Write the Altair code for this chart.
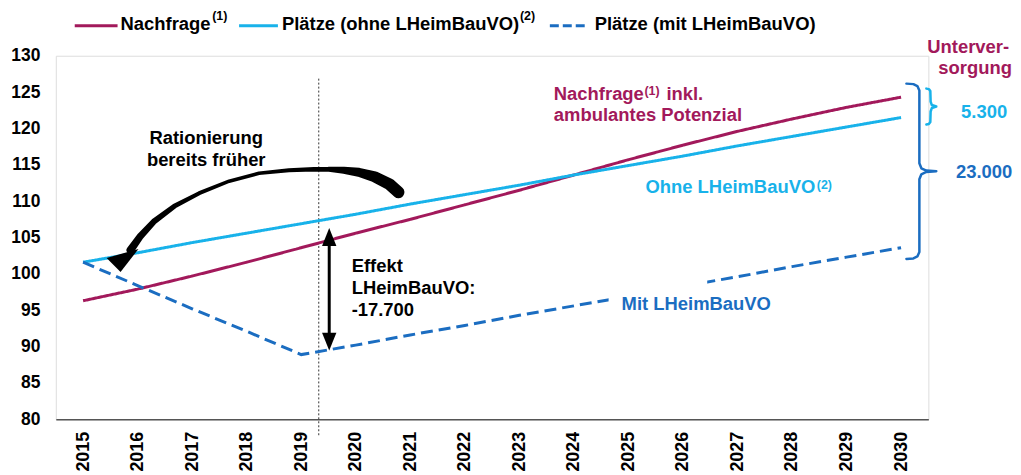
import altair as alt
import pandas as pd

# ---------------- data ----------------
years = list(range(2015, 2031))
nachfrage = [96.3, 97.9, 99.7, 101.6, 103.6, 105.6, 107.5, 109.5, 111.5, 113.6,
             115.7, 117.7, 119.6, 121.3, 122.9, 124.3]
plaetze_ohne = [101.6, 102.9, 104.3, 105.6, 106.9, 108.2, 109.6, 110.9, 112.2, 113.6,
                114.9, 116.2, 117.6, 118.9, 120.2, 121.5]
plaetze_mit = [101.6, 98.4, 95.2, 92.1, 88.9, 90.2, 91.6, 92.9, 94.3, 95.6,
               96.9, 98.3, 99.6, 101.0, 102.3, 103.6]
series_names = ["Nachfrage", "Plätze (ohne LHeimBauVO)", "Plätze (mit LHeimBauVO)"]
y_ticks = list(range(80, 131, 5))

CRIMSON = "#A2195B"
LIGHT = "#18B2EA"
MID = "#1B6DC1"
FONT = "Liberation Sans"
FS = 18.5

W, H = 876, 365
OX, OY = 56, 55  # page position of the plot origin (annotation helper)


def px(x):
    return x - OX


def py(y):
    return y - OY


df = pd.DataFrame({
    "year": years * 3,
    "value": nachfrage + plaetze_ohne + plaetze_mit,
    "series": [series_names[0]] * 16 + [series_names[1]] * 16 + [series_names[2]] * 16,
})

x_enc = alt.X(
    "year:Q",
    scale=alt.Scale(domain=[2014.5, 2030.5], nice=False, zero=False),
    axis=alt.Axis(values=years, format="d", labelAngle=-90, title=None, grid=False,
                  ticks=False, labelPadding=12, domainColor="#555555", domainWidth=1.5,
                  labelFont=FONT, labelFontWeight="bold", labelFontSize=18,
                  labelColor="black"),
)
y_enc = alt.Y(
    "value:Q",
    scale=alt.Scale(domain=[80, 130], nice=False, zero=False),
    axis=alt.Axis(values=y_ticks, title=None, grid=False, ticks=False, domain=False,
                  labelPadding=16, labelFont=FONT, labelFontWeight="bold",
                  labelFontSize=17.5, labelColor="black"),
)

lines = alt.Chart(df).mark_line(strokeWidth=3).encode(
    x=x_enc,
    y=y_enc,
    color=alt.Color("series:N", scale=alt.Scale(domain=series_names, range=[CRIMSON, LIGHT, MID]),
                    legend=None),
    strokeDash=alt.StrokeDash("series:N",
                              scale=alt.Scale(domain=series_names, range=[[1, 0], [1, 0], [12, 6]]),
                              legend=None),
)

# white mask hiding part of the dashed line
mask = alt.Chart(pd.DataFrame({"a": [0]})).mark_rect(color="white").encode(
    x=alt.value(px(611)), x2=alt.value(px(710)), y=alt.value(py(277)), y2=alt.value(py(306))
)

# dotted vertical separator
dotted = alt.Chart(pd.DataFrame({"a": [0]})).mark_rule(
    color="#333333", strokeWidth=1, strokeDash=[2, 2]
).encode(x=alt.value(px(320)), y=alt.value(py(78)), y2=alt.value(py(437)))

# legend
leg_rules = []
for (x1, x2, col, dash) in [(75, 118, CRIMSON, [1, 0]), (240, 279, LIGHT, [1, 0]), (552, 589, MID, [9, 4])]:
    leg_rules.append(
        alt.Chart(pd.DataFrame({"a": [0]})).mark_rule(color=col, strokeWidth=3, strokeDash=dash).encode(
            x=alt.value(px(x1)), x2=alt.value(px(x2)), y=alt.value(py(25))
        )
    )

ann = [
    ("Nachfrage", 121, 23.6, "black", FS, "left"),
    ("(1)", 213, 15, "black", 12.5, "left"),
    ("Plätze (ohne LHeimBauVO)", 283, 23.6, "black", FS, "left"),
    ("(2)", 522, 15, "black", 12.5, "left"),
    ("Plätze (mit LHeimBauVO)", 597, 23.6, "black", FS, "left"),
    ("Unterver-", 972, 46.6, CRIMSON, FS, "center"),
    ("sorgung", 979, 67.3, CRIMSON, FS, "center"),
    ("5.300", 988, 112, LIGHT, FS, "center"),
    ("23.000", 988, 172, MID, FS, "center"),
    ("Rationierung", 207, 138, "black", FS, "center"),
    ("bereits früher", 207, 159.6, "black", FS, "center"),
    ("Effekt", 353, 266.3, "black", FS, "left"),
    ("LHeimBauVO:", 353, 288, "black", FS, "left"),
    ("-17.700", 353, 310.3, "black", FS, "left"),
    ("Nachfrage", 556, 93, CRIMSON, FS, "left"),
    ("(1)", 647, 90.5, CRIMSON, 12.5, "left"),
    ("inkl.", 669, 93, CRIMSON, FS, "left"),
    ("ambulantes Potenzial", 556, 114.6, CRIMSON, FS, "left"),
    ("Ohne LHeimBauVO", 648, 187.3, LIGHT, FS, "left"),
    ("(2)", 820, 185, LIGHT, 12.5, "left"),
    ("Mit LHeimBauVO", 624, 304.6, MID, FS, "left"),
]
ann_df = pd.DataFrame(ann, columns=["t", "x", "y", "c", "s", "a"])
ann_df["x"] = ann_df["x"] - OX
ann_df["y"] = ann_df["y"] - OY

text_layers = []
for al in ["left", "center"]:
    sub = ann_df[ann_df["a"] == al]
    text_layers.append(
        alt.Chart(sub).mark_text(align=al, baseline="middle", font=FONT, fontWeight="bold").encode(
            x=alt.X("x:Q", scale=None, axis=None),
            y=alt.Y("y:Q", scale=None, axis=None),
            text="t:N",
            color=alt.Color("c:N", scale=None),
            size=alt.Size("s:Q", scale=None),
        )
    )

# braces
big = [(910, 83), (917, 83.5), (921, 85.5), (923, 90), (923, 163), (925, 168), (930, 170.3), (940, 171),
       (930, 171.7), (925, 174), (923, 179), (923, 252), (921, 256.5), (917, 258.5), (910, 259)]
small = [(930, 88), (932.5, 88.5), (934, 90.5), (934.3, 101), (935.5, 104.5), (940, 106),
         (935.5, 107.5), (934.3, 111), (934, 121.5), (932.5, 123.5), (930, 124)]
brace_layers = []
for pts, col in [(big, MID), (small, LIGHT)]:
    bdf = pd.DataFrame({"x": [p[0] - OX for p in pts], "y": [p[1] - OY for p in pts],
                        "i": list(range(len(pts)))})
    brace_layers.append(
        alt.Chart(bdf).mark_line(color=col, strokeWidth=2.5, strokeJoin="round", strokeCap="round").encode(
            x=alt.X("x:Q", scale=None, axis=None), y=alt.Y("y:Q", scale=None, axis=None),
            order=alt.Order("i:Q"),
        )
    )

# curved arrow (tapered)
arc = [(400, 192, 12), (391, 184, 12), (376, 176.5, 11), (360, 172, 9), (345, 170, 7), (330, 169, 5),
       (315, 169, 4.5), (290, 170, 4), (260, 173, 3.5), (230, 181, 3.5), (200, 193, 4), (175, 206, 5),
       (155, 221, 6), (141, 236, 7), (131, 250, 8)]
arc_df = pd.DataFrame({"x": [p[0] - OX for p in arc], "y": [p[1] - OY for p in arc],
                       "w": [p[2] for p in arc], "i": list(range(len(arc)))})
trail = alt.Chart(arc_df).mark_trail(color="black").encode(
    x=alt.X("x:Q", scale=None, axis=None), y=alt.Y("y:Q", scale=None, axis=None),
    size=alt.Size("w:Q", scale=None), order=alt.Order("i:Q"),
)
head = alt.Chart(pd.DataFrame({"a": [0]})).mark_point(
    shape="M-0.75,-0.1L-0.05,0.6L0.85,-0.55Z", size=1600, filled=True, color="black", opacity=1,
    strokeWidth=0,
).encode(x=alt.value(px(122)), y=alt.value(py(260)))

# vertical double arrow
shaft = alt.Chart(pd.DataFrame({"a": [0]})).mark_rule(color="black", strokeWidth=3).encode(
    x=alt.value(px(330.5)), y=alt.value(py(242)), y2=alt.value(py(337))
)
head_up = alt.Chart(pd.DataFrame({"a": [0]})).mark_point(
    shape="M0,-1L0.8,1L-0.8,1Z", size=324, filled=True, color="black", opacity=1, strokeWidth=0,
).encode(x=alt.value(px(330.5)), y=alt.value(py(237)))
head_dn = alt.Chart(pd.DataFrame({"a": [0]})).mark_point(
    shape="M0,1L0.8,-1L-0.8,-1Z", size=324, filled=True, color="black", opacity=1, strokeWidth=0,
).encode(x=alt.value(px(330.5)), y=alt.value(py(342)))

chart = alt.layer(
    dotted, lines, mask, trail, head, shaft, head_up, head_dn, *brace_layers, *leg_rules, *text_layers
).properties(
    width=W, height=H,
    autosize=alt.AutoSizeParams(type="none"),
    padding={"left": 48, "top": 47, "right": 85, "bottom": 55},
).configure_view(stroke=None).configure(background="white")

chart.save("out.html", embed_options={"renderer": "svg", "actions": False})
